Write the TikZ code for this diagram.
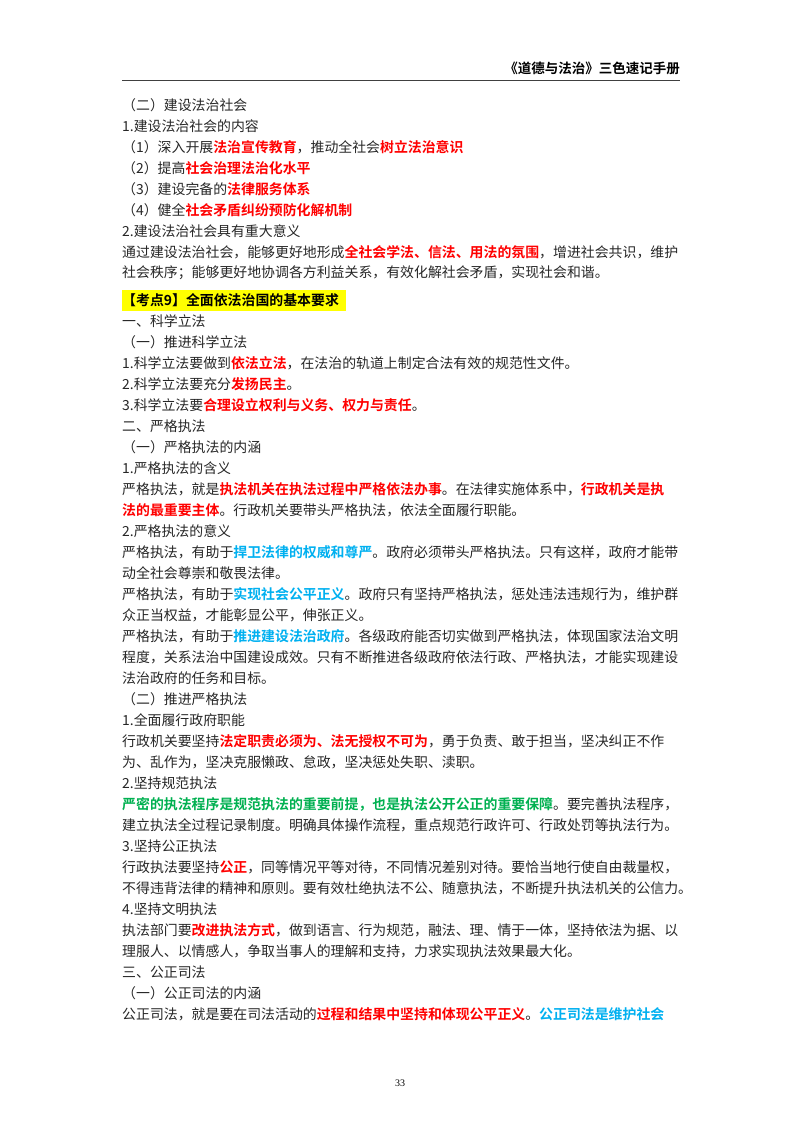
\documentclass[tikz,border=0pt]{standalone}
\usepackage{fontspec}
\setmainfont{Liberation Serif}
\newfontfamily\cjk{Noto Sans CJK SC}
\newfontfamily\cjkb{Noto Sans CJK SC Bold}
\definecolor{keyred}{RGB}{255,0,0}
\definecolor{keyblue}{RGB}{0,176,240}
\definecolor{keygreen}{RGB}{0,176,80}
\definecolor{marker}{RGB}{255,255,0}
\newcommand{\R}[1]{{\cjkb\color{keyred}#1}}
\newcommand{\B}[1]{{\cjkb\color{keyblue}#1}}
\newcommand{\G}[1]{{\cjkb\color{keygreen}#1}}
\begin{document}
\begin{tikzpicture}[x=1pt,y=-1pt,
    line/.style={anchor=west, inner sep=0pt, font=\cjk\fontsize{13.9pt}{14pt}\selectfont, text=black!85},
    head/.style={anchor=east, inner sep=0pt, font=\cjkb\fontsize{13.5pt}{14pt}\selectfont}]
    \useasboundingbox (0,0) rectangle (800,1132);

    % Header
    \node[head] (head) at (680,68) {《道德与法治》三色速记手册};
    \draw[line width=0.8pt, black!75] (122,80) -- (680,80);

    % Section mark
    \fill[marker] (122,290) rectangle (346,311);

    % Body lines
    \node[line] (l0) at (122,105) {（二）建设法治社会};
    \node[line] (l1) at (122,126) {1.建设法治社会的内容};
    \node[line] (l2) at (122,147) {（1）深入开展\R{法治宣传教育}，推动全社会\R{树立法治意识}};
    \node[line] (l3) at (122,168) {（2）提高\R{社会治理法治化水平}};
    \node[line] (l4) at (122,189) {（3）建设完备的\R{法律服务体系}};
    \node[line] (l5) at (122,210) {（4）健全\R{社会矛盾纠纷预防化解机制}};
    \node[line] (l6) at (122,231) {2.建设法治社会具有重大意义};
    \node[line] (l7) at (122,252) {通过建设法治社会，能够更好地形成\R{全社会学法、信法、用法的氛围}，增进社会共识，维护};
    \node[line] (l8) at (122,273) {社会秩序；能够更好地协调各方利益关系，有效化解社会矛盾，实现社会和谐。};
    \node[line, font=\cjkb\fontsize{13.9pt}{14pt}\selectfont, text=black] (l9) at (122,300) {【考点9】全面依法治国的基本要求};
    \node[line] (l10) at (122,321) {一、科学立法};
    \node[line] (l11) at (122,342) {（一）推进科学立法};
    \node[line] (l12) at (122,363) {1.科学立法要做到\R{依法立法}，在法治的轨道上制定合法有效的规范性文件。};
    \node[line] (l13) at (122,384) {2.科学立法要充分\R{发扬民主}。};
    \node[line] (l14) at (122,405) {3.科学立法要\R{合理设立权利与义务、权力与责任}。};
    \node[line] (l15) at (122,426) {二、严格执法};
    \node[line] (l16) at (122,447) {（一）严格执法的内涵};
    \node[line] (l17) at (122,468) {1.严格执法的含义};
    \node[line] (l18) at (122,489) {严格执法，就是\R{执法机关在执法过程中严格依法办事}。在法律实施体系中，\R{行政机关是执}};
    \node[line] (l19) at (122,510) {\R{法的最重要主体}。行政机关要带头严格执法，依法全面履行职能。};
    \node[line] (l20) at (122,531) {2.严格执法的意义};
    \node[line] (l21) at (122,552) {严格执法，有助于\B{捍卫法律的权威和尊严}。政府必须带头严格执法。只有这样，政府才能带};
    \node[line] (l22) at (122,573) {动全社会尊崇和敬畏法律。};
    \node[line] (l23) at (122,594) {严格执法，有助于\B{实现社会公平正义}。政府只有坚持严格执法，惩处违法违规行为，维护群};
    \node[line] (l24) at (122,615) {众正当权益，才能彰显公平，伸张正义。};
    \node[line] (l25) at (122,636) {严格执法，有助于\B{推进建设法治政府}。各级政府能否切实做到严格执法，体现国家法治文明};
    \node[line] (l26) at (122,657) {程度，关系法治中国建设成效。只有不断推进各级政府依法行政、严格执法，才能实现建设};
    \node[line] (l27) at (122,678) {法治政府的任务和目标。};
    \node[line] (l28) at (122,699) {（二）推进严格执法};
    \node[line] (l29) at (122,720) {1.全面履行政府职能};
    \node[line] (l30) at (122,741) {行政机关要坚持\R{法定职责必须为、法无授权不可为}，勇于负责、敢于担当，坚决纠正不作};
    \node[line] (l31) at (122,762) {为、乱作为，坚决克服懒政、怠政，坚决惩处失职、渎职。};
    \node[line] (l32) at (122,783) {2.坚持规范执法};
    \node[line] (l33) at (122,804) {\G{严密的执法程序是规范执法的重要前提，也是执法公开公正的重要保障}。要完善执法程序，};
    \node[line] (l34) at (122,825) {建立执法全过程记录制度。明确具体操作流程，重点规范行政许可、行政处罚等执法行为。};
    \node[line] (l35) at (122,846) {3.坚持公正执法};
    \node[line] (l36) at (122,867) {行政执法要坚持\R{公正}，同等情况平等对待，不同情况差别对待。要恰当地行使自由裁量权，};
    \node[line] (l37) at (122,888) {不得违背法律的精神和原则。要有效杜绝执法不公、随意执法，不断提升执法机关的公信力。};
    \node[line] (l38) at (122,909) {4.坚持文明执法};
    \node[line] (l39) at (122,930) {执法部门要\R{改进执法方式}，做到语言、行为规范，融法、理、情于一体，坚持依法为据、以};
    \node[line] (l40) at (122,951) {理服人、以情感人，争取当事人的理解和支持，力求实现执法效果最大化。};
    \node[line] (l41) at (122,972) {三、公正司法};
    \node[line] (l42) at (122,993) {（一）公正司法的内涵};
    \node[line] (l43) at (122,1014) {公正司法，就是要在司法活动的\R{过程和结果中坚持和体现公平正义}。\B{公正司法是维护社会}};

    % Page number
    \node[inner sep=0pt, font=\fontsize{10pt}{12pt}\selectfont] (page) at (400,1083) {33};
\end{tikzpicture}
\end{document}
